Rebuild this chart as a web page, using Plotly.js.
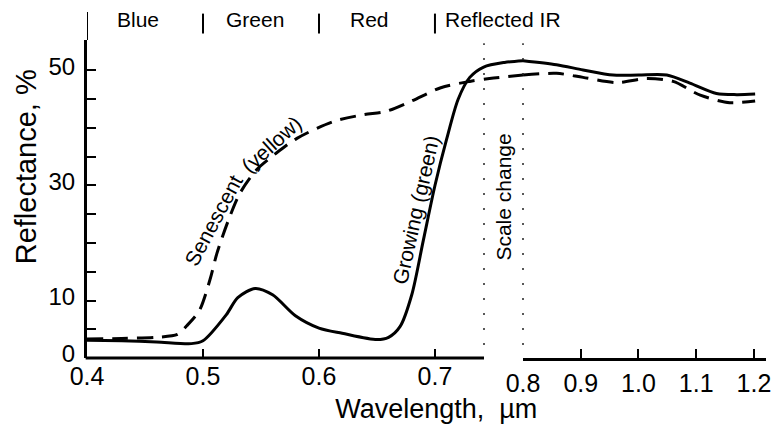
<!DOCTYPE html>
<html>
<head>
<meta charset="utf-8">
<script src="https://cdn.plot.ly/plotly-3.0.1.min.js"></script>
<style>html,body{margin:0;padding:0;background:#fff;}#chart{width:782px;height:427px;}</style>
</head>
<body>
<div id="chart"></div>
<script>
// Growing (green) vegetation, left scale (0.4 - scale change)
const growWlLeft = [0.40, 0.43, 0.46, 0.49, 0.50, 0.52, 0.53, 0.545, 0.56, 0.58, 0.60, 0.62, 0.65, 0.66, 0.67, 0.68, 0.69, 0.70, 0.71, 0.72, 0.73, 0.742, 0.76, 0.776];
const growLeft   = [3.1, 3.0, 2.8, 2.5, 3.0, 7.5, 10.5, 12.1, 11.0, 7.3, 5.2, 4.3, 3.2, 3.6, 5.5, 11.0, 20.5, 30.0, 38.0, 45.0, 48.8, 50.6, 51.4, 51.7];
// Senescent (yellow) vegetation, left scale
const senWlLeft = [0.40, 0.43, 0.46, 0.478, 0.486, 0.497, 0.506, 0.512, 0.522, 0.532, 0.546, 0.563, 0.581, 0.612, 0.638, 0.658, 0.68, 0.705, 0.73, 0.747, 0.776];
const senLeft   = [3.3, 3.4, 3.6, 4.1, 5.6, 8.3, 13.6, 18.2, 24.0, 28.7, 32.7, 35.6, 38.2, 41.1, 42.3, 42.9, 44.7, 47.0, 48.1, 48.6, 49.2];
// Right scale (0.8 - 1.2 um)
const growWlRight = [0.80, 0.858, 0.904, 0.956, 1.0, 1.049, 1.089, 1.135, 1.17, 1.202];
const growRight   = [51.7, 51.0, 50.1, 49.2, 49.2, 49.2, 47.8, 46.0, 45.8, 45.9];
const senWlRight = [0.80, 0.858, 0.904, 0.962, 1.014, 1.06, 1.107, 1.158, 1.202];
const senRight   = [49.2, 49.5, 48.8, 47.9, 48.6, 48.1, 45.7, 44.4, 44.7];

const leftTicks = [0.4, 0.5, 0.6, 0.7];
const leftTickText = ['0.4', '0.5', '0.6', '0.7'];
const rightTicks = [0.8, 0.9, 1.0, 1.1, 1.2];
const rightTickText = ['0.8', '0.9', '1.0', '1.1', '1.2'];
const yTicks = [0, 5, 10, 15, 20, 25, 30, 35, 40, 45, 50];
const yTickText = ['0', '', '10', '', '', '', '30', '', '', '', '50'];
const bands = ['Blue', 'Green', 'Red', 'Reflected IR'];
const bandStart = [0.424, 0.518, 0.625, 0.707];
const bandEdges = [0.5, 0.6, 0.7];

const FONT = 'Liberation Sans, Arial, Helvetica, sans-serif';
const solid = {color: '#000', width: 3, shape: 'spline', smoothing: 0.8};
const dashed = {color: '#000', width: 3, dash: '16px,9px', shape: 'spline', smoothing: 0.8};

const traces = [
  {x: growWlLeft, y: growLeft, xaxis: 'x', yaxis: 'y', mode: 'lines', line: solid, name: 'Growing (green)', hoverinfo: 'x+y'},
  {x: senWlLeft, y: senLeft, xaxis: 'x', yaxis: 'y', mode: 'lines', line: dashed, name: 'Senescent (yellow)', hoverinfo: 'x+y'},
  {x: growWlRight, y: growRight, xaxis: 'x2', yaxis: 'y', mode: 'lines', line: solid, name: 'Growing (green)', hoverinfo: 'x+y'},
  {x: senWlRight, y: senRight, xaxis: 'x2', yaxis: 'y', mode: 'lines', line: dashed, name: 'Senescent (yellow)', hoverinfo: 'x+y'}
];

const splitX = 436 / 679;
const gapX = 397 / 679;

const shapes = [
  // left x-axis line ending at the scale change
  {type: 'line', xref: 'paper', yref: 'paper', x0: -0.002, x1: gapX, y0: 0, y1: 0, line: {color: '#000', width: 3}},
  // scale-change dotted lines
  {type: 'line', xref: 'paper', yref: 'paper', x0: gapX, x1: gapX, y0: 0.041, y1: 0.99, line: {color: '#222', width: 1.5, dash: '2px,13px'}},
  {type: 'line', xref: 'paper', yref: 'paper', x0: splitX, x1: splitX, y0: 0.041, y1: 0.99, line: {color: '#222', width: 1.5, dash: '2px,13px'}},
  // top band separators
  {type: 'line', xref: 'x', yref: 'paper', x0: 0.4, x1: 0.4, y0: 1.0, y1: 1.088, line: {color: '#000', width: 2}}
];
bandEdges.forEach(b => shapes.push({type: 'line', xref: 'x', yref: 'paper', x0: b, x1: b, y0: 1.0204, y1: 1.083, line: {color: '#000', width: 2}}));

const labelFont = {family: FONT, size: 21, color: '#000'};
const annotations = bands.map((b, i) => ({
  text: b, xref: 'x', yref: 'paper', x: bandStart[i], y: 1.063, xanchor: 'left', yanchor: 'middle',
  showarrow: false, font: labelFont
}));
annotations.push(
  {text: 'Senescent', xref: 'x', yref: 'y', x: 0.5090, y: 23.9, textangle: -62, showarrow: false,
   xanchor: 'center', yanchor: 'middle', font: labelFont},
  {text: '(yellow)', xref: 'x', yref: 'y', x: 0.5585, y: 37.2, textangle: -42, showarrow: false,
   xanchor: 'center', yanchor: 'middle', font: labelFont},
  {text: 'Growing (green)', xref: 'x', yref: 'y', x: 0.6832, y: 25.9, textangle: -77.5, showarrow: false,
   xanchor: 'center', yanchor: 'middle', font: labelFont},
  {text: 'Scale change', xref: 'paper', yref: 'paper', x: 0.6134, y: 0.506, textangle: -90, showarrow: false,
   xanchor: 'center', yanchor: 'middle', font: labelFont}
);

const padX = '&nbsp;'.repeat(35);
const padY = '&nbsp;'.repeat(8);

const layout = {
  width: 782, height: 427,
  margin: {l: 87, r: 16, t: 40, b: 69, pad: 0},
  paper_bgcolor: '#fff', plot_bgcolor: '#fff',
  showlegend: false,
  font: {family: FONT, color: '#000'},
  xaxis: {
    domain: [0, splitX], range: [0.4, 0.7759], anchor: 'y',
    showline: false, showgrid: false, zeroline: false,
    tickmode: 'array', tickvals: leftTicks, ticktext: leftTickText,
    ticks: 'inside', ticklen: 9, tickwidth: 2, tickcolor: '#000',
    tickfont: {family: FONT, size: 25, color: '#000'}, ticklabelstandoff: 1,
    title: {text: padX + 'Wavelength,&nbsp;&nbsp;µm', font: {family: FONT, size: 27, color: '#000'}, standoff: 10}
  },
  xaxis2: {
    domain: [splitX, 1], range: [0.8, 1.2208], anchor: 'y',
    showline: true, linecolor: '#000', linewidth: 3, showgrid: false, zeroline: false,
    tickmode: 'array', tickvals: rightTicks, ticktext: rightTickText,
    ticks: 'inside', ticklen: 9, tickwidth: 2, tickcolor: '#000',
    tickfont: {family: FONT, size: 25, color: '#000'}, ticklabelstandoff: 1
  },
  yaxis: {
    domain: [0, 1], range: [0, 55.3], anchor: 'x',
    showline: true, linecolor: '#000', linewidth: 3, showgrid: false, zeroline: false,
    tickmode: 'array', tickvals: yTicks, ticktext: yTickText,
    ticks: 'inside', ticklen: 9, tickwidth: 2, tickcolor: '#000',
    tickfont: {family: FONT, size: 24, color: '#000'}, ticklabelstandoff: 4, ticklabelshift: -4,
    title: {text: padY + 'Reflectance, %', font: {family: FONT, size: 29, color: '#000'}, standoff: 4}
  },
  shapes: shapes,
  annotations: annotations
};

Plotly.newPlot('chart', traces, layout, {displayModeBar: false, staticPlot: true});
</script>
</body>
</html>
